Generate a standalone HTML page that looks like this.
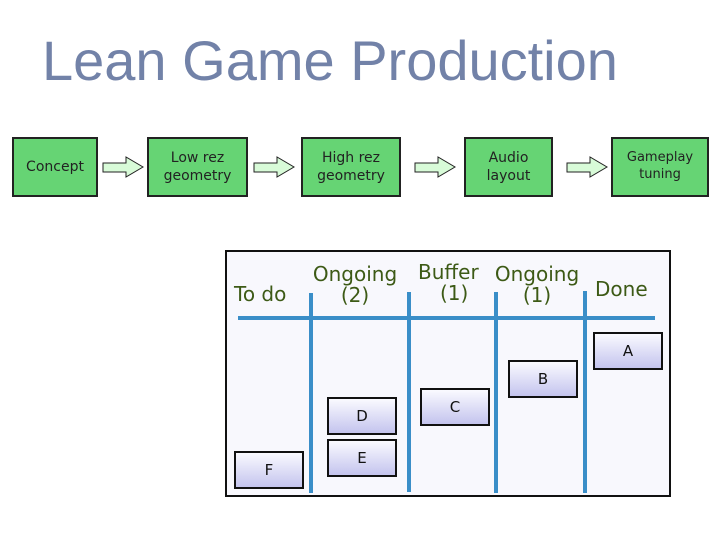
<!DOCTYPE html>
<html><head><style>
body{margin:0;width:720px;height:540px;background:#fff;position:relative;overflow:hidden;font-family:"Liberation Sans",sans-serif}
.t{position:absolute;left:42px;top:28px;font-size:56px;color:#7282a8;white-space:nowrap}
.g{position:absolute;background:#66d474;border:2px solid #222;box-sizing:border-box;display:flex;align-items:center;justify-content:center;text-align:center;font-family:"DejaVu Sans",sans-serif;font-size:14px;color:#222;line-height:1.3}
.panel{position:absolute;left:225px;top:250px;width:446px;height:247px;border:2px solid #111;box-sizing:border-box;background:#f8f8fd}
.c{position:absolute;width:70px;height:38px;border:2px solid #111;box-sizing:border-box;background:linear-gradient(#fafaff,#c4c4ee);display:flex;align-items:center;justify-content:center;font-family:"DejaVu Sans",sans-serif;font-size:15px;color:#111}
.h{position:absolute;font-family:"DejaVu Sans",sans-serif;font-size:20px;color:#3d5a16;text-align:center;line-height:21px}
</style></head><body>
<div class="t">Lean Game Production</div>
<div class="g" style="left:12px;top:137px;width:86px;height:60px">Concept</div>
<div class="g" style="left:147px;top:137px;width:101px;height:60px">Low rez<br>geometry</div>
<div class="g" style="left:301px;top:137px;width:100px;height:60px">High rez<br>geometry</div>
<div class="g" style="left:464px;top:137px;width:89px;height:60px">Audio<br>layout</div>
<div class="g" style="left:611px;top:137px;width:98px;height:60px;font-size:13px">Gameplay<br>tuning</div>
<svg width="720" height="540" style="position:absolute;left:0;top:0">
<g fill="#d8fbd8" stroke="#222" stroke-width="1">
<polygon points="103,163 126,163 126,157 143,167 126,177 126,172 103,172"/>
<polygon points="254,163 277,163 277,157 294,167 277,177 277,172 254,172"/>
<polygon points="415,163 438,163 438,157 455,167 438,177 438,172 415,172"/>
<polygon points="567,163 590,163 590,157 607,167 590,177 590,172 567,172"/>
</g></svg>
<div class="panel"></div>
<svg width="720" height="540" style="position:absolute;left:0;top:0">
<g stroke="#3a8ec8" stroke-width="4" fill="none">
<line x1="238" y1="318" x2="655" y2="318"/>
<line x1="311" y1="293" x2="311" y2="493"/>
<line x1="409" y1="292" x2="409" y2="492"/>
<line x1="496" y1="292" x2="496" y2="493"/>
<line x1="585" y1="291" x2="585" y2="493"/>
</g></svg>
<div class="h" style="left:234px;top:284px">To do</div>
<div class="h" style="left:312px;top:264px;width:86px">Ongoing<br>(2)</div>
<div class="h" style="left:418px;top:262px">Buffer</div>
<div class="h" style="left:440px;top:283px">(1)</div>
<div class="h" style="left:494px;top:264px;width:86px">Ongoing<br>(1)</div>
<div class="h" style="left:595px;top:279px">Done</div>
<div class="c" style="left:593px;top:332px">A</div>
<div class="c" style="left:508px;top:360px">B</div>
<div class="c" style="left:420px;top:388px">C</div>
<div class="c" style="left:327px;top:397px">D</div>
<div class="c" style="left:327px;top:439px">E</div>
<div class="c" style="left:234px;top:451px">F</div>
</body></html>
